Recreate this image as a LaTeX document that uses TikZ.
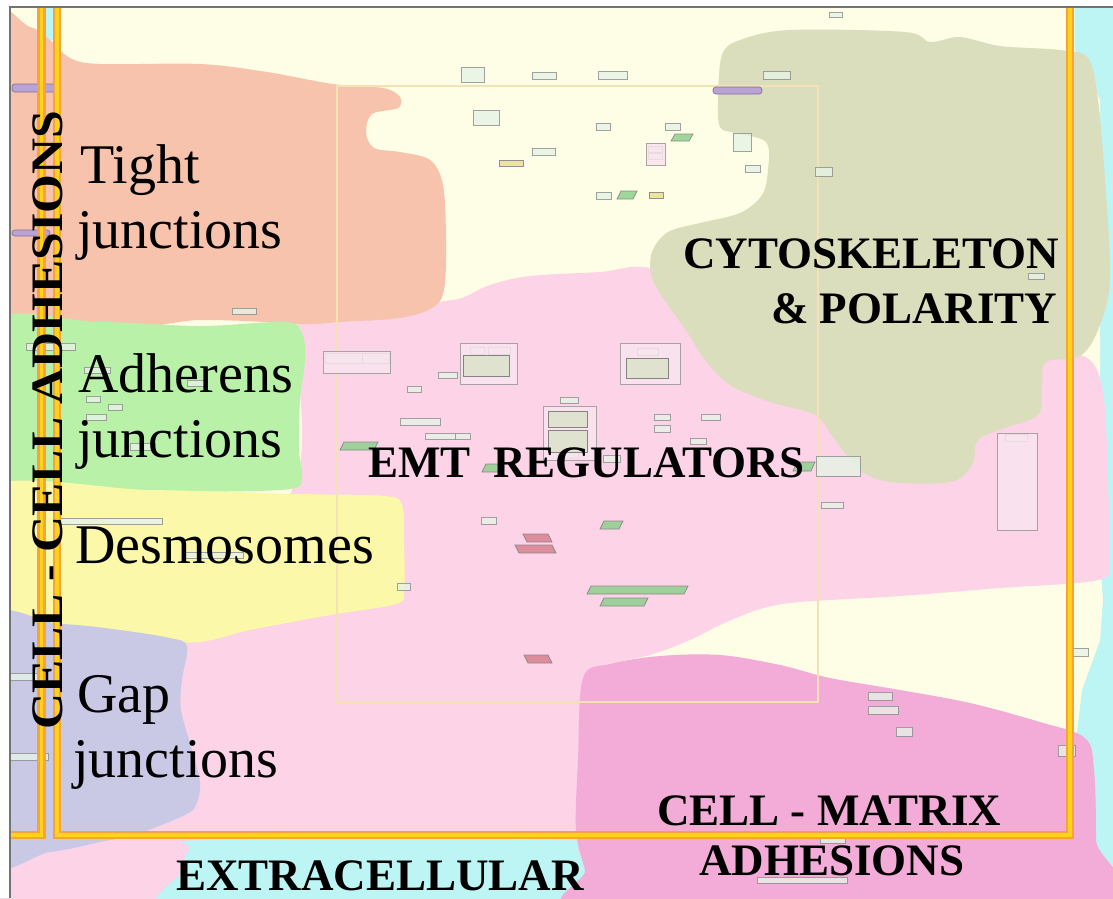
\documentclass[tikz,border=0pt]{standalone}
\usepackage{fontspec}
\setmainfont{Liberation Serif}
\usetikzlibrary{calc}

\definecolor{cream}{HTML}{FEFDE5}
\definecolor{ecmcyan}{HTML}{BCF5F3}
\definecolor{tjsalmon}{HTML}{F8C3AC}
\definecolor{ajgreen}{HTML}{B9F1A9}
\definecolor{dsyellow}{HTML}{FBF8A9}
\definecolor{gjlavender}{HTML}{C9C9E6}
\definecolor{emtpink}{HTML}{FDD3E8}
\definecolor{cmpink}{HTML}{F3ABD8}
\definecolor{cpolive}{HTML}{DBDEBD}
\definecolor{framegold}{HTML}{FFD21C}
\definecolor{frameorange}{HTML}{F6A33A}
\definecolor{faintline}{HTML}{F2E2B4}
\definecolor{boxfill}{HTML}{E6F3E6}
\definecolor{cplxfill}{HTML}{F9E4EF}
\definecolor{protfill}{HTML}{DCE3CB}
\definecolor{paragreen}{HTML}{8FD08F}
\definecolor{parared}{HTML}{D9818F}
\definecolor{boxyellow}{HTML}{E8E28C}
\definecolor{pillpurple}{HTML}{B9A3D6}

\begin{document}
\begin{tikzpicture}[x=1pt, y=-1pt,
    blob/.style={smooth cycle, tension=0.55},
    lbl/.style={anchor=base west, inner sep=0pt, font=\fontsize{56}{60}\selectfont},
    zone/.style={anchor=base west, inner sep=0pt, font=\fontsize{45}{50}\selectfont\bfseries},
    frameline/.style={draw=frameorange, double=framegold, double distance=3.5pt, line width=2.5pt, line join=miter},
    smallbox/.style={draw=black!45, fill=boxfill, line width=0.7pt, opacity=0.8},
    cplxbox/.style={draw=black!40, fill=cplxfill, line width=0.8pt, opacity=0.85},
    protbox/.style={draw=black!55, fill=protfill, line width=1pt, opacity=0.85},
    greenpara/.style={draw=black!50, fill=paragreen, line width=0.7pt, opacity=0.85},
    redpara/.style={draw=black!50, fill=parared, line width=0.7pt, opacity=0.85},
    yellowbox/.style={draw=black!50, fill=boxyellow, line width=0.7pt, opacity=0.85},
    pill/.style={draw=pillpurple!70!black, fill=pillpurple, line width=0.7pt, rounded corners=3pt}]
    \useasboundingbox (0,0) rectangle (1113,898);
    \clip (0,0) rectangle (1113,898);

    % background: extracellular strip and cytoplasm
    \fill[ecmcyan] (0,0) rectangle (1113,898);
    \fill[cream] (0,0) -- (1075,0) -- (1075,50) -- (1100,100) -- (1100,560) -- (1103,600)
        -- (1100,640) -- (1082,690) -- (1076,740) -- (1076,910) -- (0,910) -- cycle;
    \fill[ecmcyan] (45,0) rectangle (53,40);

    % EMT regulators
    \fill[emtpink] plot[blob] coordinates {(296,340) (305,322) (340,316) (400,314) (440,302) (462,298)
        (490,285) (530,276) (600,272) (650,268) (720,300) (850,330) (1000,340) (1060,350) (1092,362)
        (1104,400) (1108,480) (1109,560) (1098,580) (1000,588) (900,596) (800,602) (760,609)
        (720,625) (690,640) (650,655) (600,668) (585,700) (578,800) (575,910) (-20,910) (-20,620)
        (200,600) (296,480)};
    % extracellular
    \fill[ecmcyan] plot[blob] coordinates {(183,915) (183,870) (190,848) (212,840) (560,840)
        (578,852) (592,915)};

    % cell - cell adhesions
    \fill[tjsalmon] plot[blob] coordinates {(-20,22) (30,27) (50,40) (70,58) (100,64) (200,64)
        (267,72) (333,84) (383,88) (400,97) (398,108) (372,114) (366,132) (374,148) (400,152)
        (430,160) (443,185) (446,240) (444,290) (432,308) (400,318) (340,322) (300,324) (200,320)
        (-20,325)};
    \fill[ajgreen] plot[blob] coordinates {(-20,326) (100,322) (200,326) (285,322) (302,333)
        (305,360) (300,400) (299,450) (302,476) (290,489) (200,492) (100,494) (-20,492)};
    \fill[dsyellow] plot[blob] coordinates {(-20,490) (150,490) (300,494) (385,496) (402,505)
        (404,540) (404,590) (396,604) (330,615) (250,630) (200,642) (150,640) (100,632) (-20,628)};
    \fill[gjlavender] plot[blob] coordinates {(-20,626) (60,624) (120,630) (170,638) (187,646)
        (182,680) (181,710) (192,750) (200,783) (196,805) (185,815) (140,833) (100,842) (50,852)
        (-20,856)};

    % cytoskeleton & polarity
    \fill[cpolive] plot[blob] coordinates {(700,223) (668,232) (652,252) (652,278) (668,305)
        (687,332) (705,360) (730,385) (770,402) (815,415) (835,440) (860,470) (890,482) (950,482)
        (972,465) (978,440) (1005,428) (1038,415) (1042,385) (1046,362) (1080,356) (1098,330)
        (1110,280) (1105,180) (1098,100) (1088,58) (1060,50) (1000,46) (960,37) (930,42) (905,32)
        (790,30) (740,40) (722,55) (718,100) (720,127) (735,133) (766,142) (768,170) (762,195)
        (740,213)};

    % cell - matrix adhesions
    \fill[cmpink] plot[blob] coordinates {(583,678) (610,664) (660,656) (720,655) (780,665)
        (830,678) (900,690) (970,703) (1040,722) (1085,738) (1094,770) (1096,840) (1094,915)
        (597,915) (585,870) (576,830) (578,760)};

    % map frame
    \draw[faintline, line width=1.5pt] (337,86) rectangle (818,702);

    % species
    \foreach \xa/\ya/\xb/\yb in {461/67/484/82, 532/72/556/79, 598/71/627/79, 763/71/790/79,
        473/110/499/125, 596/123/610/130, 665/123/680/130, 733/133/751/151, 532/148/555/155,
        745/165/760/172, 596/192/611/199, 829/12/842/17, 815/167/832/176, 1028/273/1044/279,
        232/308/256/314, 26/343/75/350, 84/367/110/373, 187/380/205/386, 86/396/100/402,
        108/404/122/410, 86/414/106/420, 130/443/155/450, 55/518/162/524, 183/552/243/558,
        397/583/410/590, 438/372/457/378, 407/386/421/392, 560/397/578/403, 400/418/440/425,
        425/433/455/439, 455/433/470/439, 654/414/670/420, 654/425/670/432, 701/414/720/420,
        690/438/706/444, 603/455/620/462, 816/456/860/476, 821/502/843/508, 1005/434/1027/441,
        481/517/496/524, 868/692/892/700, 868/706/898/714, 896/727/912/736, 1058/745/1075/756,
        1073/648/1088/656, 820/838/845/843, 757/877/847/883, 10/673/45/680, 10/753/48/760,
        325/353/362/363, 362/353/389/363, 470/347/484/354, 488/347/510/354, 637/348/658/355,
        558/452/578/458, 648/146/662/152, 648/153/662/159}
        \draw[smallbox] (\xa,\ya) rectangle (\xb,\yb);
    \foreach \xa/\ya/\xb/\yb in {323/351/390/373, 460/343/517/384, 620/343/680/384,
        543/406/596/460, 646/143/665/165, 997/433/1037/530}
        \draw[cplxbox] (\xa,\ya) rectangle (\xb,\yb);
    \foreach \xa/\ya/\xb/\yb in {463/355/509/376, 626/358/668/378, 548/411/587/427, 548/430/587/452}
        \draw[protbox] (\xa,\ya) rectangle (\xb,\yb);
    \foreach \xa/\ya/\xb/\yb in {671/134/693/141, 617/191/637/199, 340/442/378/450, 482/464/503/472,
        600/521/623/529, 587/586/688/594, 600/598/648/606, 793/462/815/471}
        \draw[greenpara] (\xa+4,\ya) -- (\xb,\ya) -- (\xb-4,\yb) -- (\xa,\yb) -- cycle;
    \foreach \xa/\ya/\xb/\yb in {523/534/552/542, 515/545/556/553, 524/655/552/663}
        \draw[redpara] (\xa,\ya) -- (\xb-4,\ya) -- (\xb,\yb) -- (\xa+4,\yb) -- cycle;
    \foreach \xa/\ya/\xb/\yb in {499/160/523/166, 649/192/663/198}
        \draw[yellowbox] (\xa,\ya) rectangle (\xb,\yb);
    \foreach \xa/\ya/\xb/\yb in {713/87/762/94, 12/84/60/92, 12/230/50/236}
        \draw[pill] (\xa,\ya) rectangle (\xb,\yb);

    % compartment borders
    \draw[frameline] (41.5,-10) -- (41.5,835) -- (-10,835);
    \draw[frameline] (57,-10) -- (57,835) -- (1070,835) -- (1070,-10);

    % labels
    \node[lbl] (tight) at (80,183) {Tight};
    \node[lbl] (tightj) at (77,248) {junctions};
    \node[lbl] (adh) at (78,392) {Adherens};
    \node[lbl] (adhj) at (77,457) {junctions};
    \node[lbl] (desmo) at (75,563) {Desmosomes};
    \node[lbl] (gap) at (77,712) {Gap};
    \node[lbl] (gapj) at (73,777) {junctions};
    \node[zone, rotate=90] (cellcell) at (62,730) {\scalebox{1.107}[1]{CELL - CELL ADHESIONS}};
    \node[zone] (cyto) at (683,268) {CYTOSKELETON};
    \node[zone] (polar) at (771,323) {\& POLARITY};
    \node[zone] (emt) at (368,477) {EMT\ \ REGULATORS};
    \node[zone] (cellmat) at (657,825) {CELL - MATRIX};
    \node[zone] (cmadh) at (699,875) {ADHESIONS};
    \node[zone, text depth=0pt] (extra) at (176,890) {EXTRACELLULAR};

    % window edge
    \fill[white] (0,0) rectangle (1113,7);
    \fill[white] (0,0) rectangle (10,898);
    \draw[black!55, line width=1.2pt] (10,898) -- (10,7) -- (1113,7);
\end{tikzpicture}
\end{document}
